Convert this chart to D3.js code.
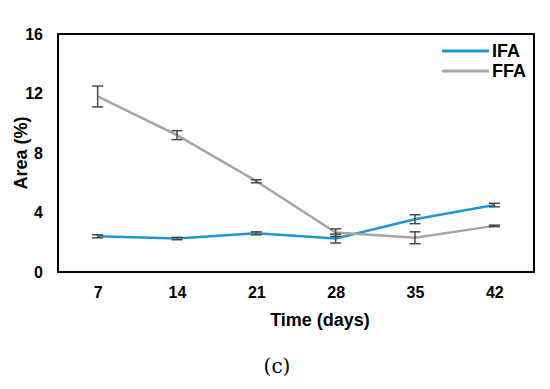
<!DOCTYPE html>
<html>
<head>
<meta charset="utf-8">
<script src="https://cdn.jsdelivr.net/npm/d3@7"></script>
<style>
  body { margin: 0; background: #fff; }
  text { font-family: "Liberation Sans", Arial, sans-serif; font-weight: bold; }
</style>
</head>
<body>
<div id="chart"></div>
<script>
// data
var days = [7, 14, 21, 28, 35, 42];
var ifaMean = [2.4, 2.25, 2.6, 2.25, 3.55, 4.5];
var ifaErr  = [0.1, 0.08, 0.1, 0.3, 0.3, 0.12];
var ffaMean = [11.8, 9.2, 6.1, 2.65, 2.3, 3.1];
var ffaErr  = [0.7, 0.3, 0.1, 0.25, 0.4, 0.05];
var yTicks = [0, 4, 8, 12, 16];

var seriesNames = ["IFA", "FFA"];
var seriesColors = ["#1e98d4", "#a5a5a5"];

var margin = {top: 34, right: 16, bottom: 117, left: 58},
    width = 550 - margin.left - margin.right,
    height = 389 - margin.top - margin.bottom;

var svg = d3.select("#chart")
  .append("svg")
    .attr("width", 550)
    .attr("height", 389);

var g = svg.append("g")
    .attr("transform", "translate(" + margin.left + "," + margin.top + ")");

var x = d3.scalePoint()
  .domain(days)
  .range([0, width])
  .padding(0.5);

var y = d3.scaleLinear()
  .domain([0, 16])
  .range([height, 0]);

// y axis labels (no tick marks)
var yAxis = g.append("g")
  .call(d3.axisLeft(y).tickValues(yTicks).tickSize(0).tickPadding(15));
yAxis.select(".domain").remove();
yAxis.selectAll("text").style("font-size", "16px").attr("fill", "#000");

var xAxis = g.append("g")
  .attr("transform", "translate(0," + height + ")")
  .call(d3.axisBottom(x).tickSize(0).tickPadding(15));
xAxis.select(".domain").remove();
xAxis.selectAll("text").style("font-size", "16px").attr("fill", "#000");

// series
var data = [
  {name: "IFA", mean: ifaMean, err: ifaErr},
  {name: "FFA", mean: ffaMean, err: ffaErr}
];

var line = d3.line()
  .x(function(d) { return x(d.day); })
  .y(function(d) { return y(d.v); });

data.forEach(function(s, i) {
  var pts = days.map(function(d, j) { return {day: d, v: s.mean[j], e: s.err[j]}; });
  g.append("path")
    .datum(pts)
    .attr("fill", "none")
    .attr("stroke", seriesColors[i])
    .attr("stroke-width", 2.5)
    .attr("d", line);
  s.pts = pts;
});

// error bars
data.forEach(function(s) {
  var eb = g.append("g").attr("stroke", "#4a4a4a").attr("stroke-width", 1.5);
  s.pts.forEach(function(p) {
    var cx = x(p.day);
    eb.append("line").attr("x1", cx).attr("x2", cx)
      .attr("y1", y(p.v + p.e)).attr("y2", y(p.v - p.e));
    eb.append("line").attr("x1", cx - 5.5).attr("x2", cx + 5.5)
      .attr("y1", y(p.v + p.e)).attr("y2", y(p.v + p.e));
    eb.append("line").attr("x1", cx - 5.5).attr("x2", cx + 5.5)
      .attr("y1", y(p.v - p.e)).attr("y2", y(p.v - p.e));
  });
});

// frame
g.append("rect")
  .attr("width", width)
  .attr("height", height)
  .attr("fill", "none")
  .attr("stroke", "#000")
  .attr("stroke-width", 2);

// legend
seriesNames.forEach(function(n, i) {
  var ly = 17 + i * 20;
  g.append("line")
    .attr("x1", width - 92).attr("x2", width - 45)
    .attr("y1", ly).attr("y2", ly)
    .attr("stroke", seriesColors[i])
    .attr("stroke-width", 3);
  g.append("text")
    .attr("x", width - 42)
    .attr("y", ly)
    .attr("dy", "0.35em")
    .style("font-size", "18px")
    .text(n);
});

// axis titles
svg.append("text")
  .attr("text-anchor", "middle")
  .attr("transform", "translate(27," + (margin.top + height / 2) + ")rotate(-90)")
  .style("font-size", "18px")
  .text("Area (%)");

svg.append("text")
  .attr("text-anchor", "middle")
  .attr("x", 320)
  .attr("y", 326)
  .style("font-size", "18px")
  .text("Time (days)");

svg.append("text")
  .attr("text-anchor", "middle")
  .attr("x", 277)
  .attr("y", 373)
  .style("font-family", "'DejaVu Serif', 'Liberation Serif', serif")
  .style("font-weight", "normal")
  .style("font-size", "20px")
  .text("(c)");
</script>
</body>
</html>
